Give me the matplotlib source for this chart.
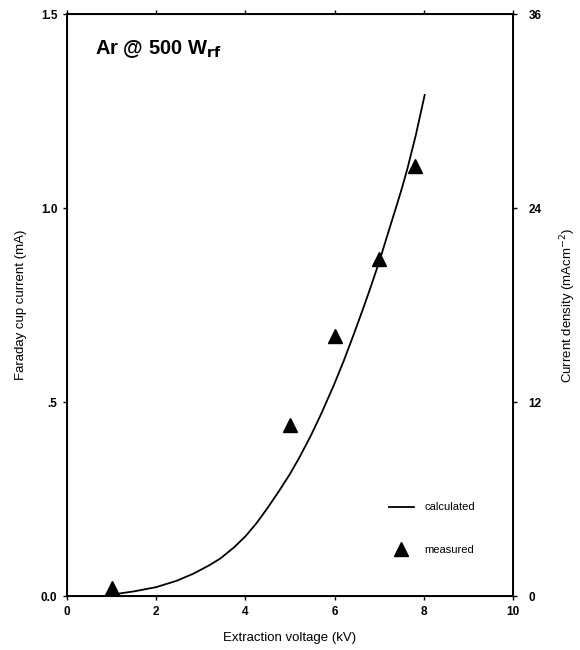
import matplotlib
matplotlib.use("Agg")
import matplotlib.pyplot as plt

# Data
calc_v = [1.08, 1.5, 2.0, 2.45, 2.84, 3.2, 3.44, 3.75, 4.0, 4.25, 4.49, 4.75, 5.0, 5.2,
          5.46, 5.7, 5.98, 6.2, 6.43, 6.62, 6.81, 7.0, 7.11, 7.25, 7.41, 7.52, 7.63, 7.82, 8.02]
calc_i = [0.005, 0.012, 0.023, 0.039, 0.058, 0.080, 0.097, 0.126, 0.154, 0.188, 0.226, 0.270,
          0.315, 0.355, 0.412, 0.470, 0.543, 0.605, 0.675, 0.735, 0.797, 0.862, 0.903, 0.955,
          1.014, 1.056, 1.101, 1.188, 1.292]
meas_v = [1.0, 5.0, 6.0, 7.0, 7.8]
meas_i = [0.02, 0.44, 0.67, 0.87, 1.11]

x_ticks = [0, 2, 4, 6, 8, 10]
y_ticks = [0.0, 0.5, 1.0, 1.5]
y_ticklabels = ["0.0", ".5", "1.0", "1.5"]
y2_ticks = [0, 12, 24, 36]

plt.rcParams['font.family'] = ['Liberation Sans', 'DejaVu Sans']

fig = plt.figure(figsize=(5.8, 6.5), dpi=100)
ax = fig.add_axes([0.1155, 0.083, 0.769, 0.895])

ax.plot(calc_v, calc_i, color='black', lw=1.3, label='calculated')
ax.plot(meas_v, meas_i, linestyle='none', marker='^', color='black', ms=10, label='measured')

ax.set_xlim(0, 10)
ax.set_ylim(0, 1.5)
ax.set_xticks(x_ticks)
ax.set_xticklabels([str(t) for t in x_ticks], fontsize=8.5, fontweight='bold')
ax.set_yticks(y_ticks)
ax.set_yticklabels(y_ticklabels, fontsize=8.5, fontweight='bold')
ax.tick_params(axis='both', direction='out', length=3, width=1, pad=4, top=True)
for s in ax.spines.values():
    s.set_linewidth(1.4)

ax.set_xlabel("Extraction voltage (kV)", fontsize=9.5, labelpad=10)
ax.set_ylabel("Faraday cup current (mA)", fontsize=9.5, labelpad=10)

ax2 = ax.twinx()
ax2.set_ylim(0, 36)
ax2.set_yticks(y2_ticks)
ax2.set_yticklabels([str(t) for t in y2_ticks], fontsize=8.5, fontweight='bold')
ax2.tick_params(axis='y', direction='out', length=3, width=1, pad=8)
ax2.set_ylabel("Current density (mAcm$^{-2}$)", fontsize=9.5, labelpad=12)

ax.text(0.062, 0.94, "Ar @ 500 W$_{\\mathbf{rf}}$", transform=ax.transAxes,
        fontsize=14.5, fontweight='bold', ha='left', va='center')

leg = ax.legend(loc='upper left', bbox_to_anchor=(0.7, 0.178), frameon=False,
                fontsize=8, labelspacing=2.9, handlelength=2.2, handletextpad=1.0)

fig.savefig("out.png", dpi=100)
